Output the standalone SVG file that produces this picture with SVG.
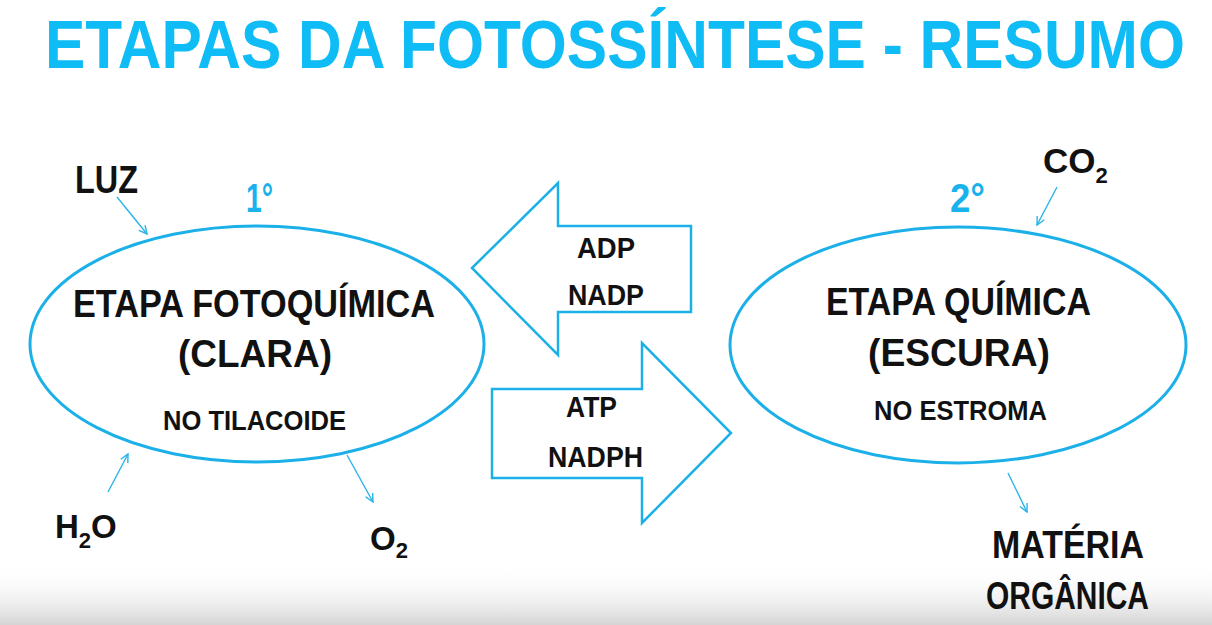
<svg xmlns="http://www.w3.org/2000/svg" width="1212" height="625" viewBox="0 0 1212 625">
  <defs>
    <linearGradient id="fade" x1="0" y1="0" x2="0" y2="1">
      <stop offset="0" stop-color="#ffffff" stop-opacity="0"/>
      <stop offset="1" stop-color="#d4d4d4" stop-opacity="1"/>
    </linearGradient>
    <marker id="vhead" viewBox="0 0 10 10" refX="9" refY="5" markerWidth="10" markerHeight="10" markerUnits="userSpaceOnUse" orient="auto">
      <path d="M1,1 L9,5 L1,9" fill="none" stroke="#2ab4e8" stroke-width="1.4"/>
    </marker>
  </defs>
  <style>
    text { font-family: "Liberation Sans", Arial, sans-serif; font-weight: bold; fill: #111; }
    .title { fill: #0fbcf5; font-size: 59px; }
    .big { font-size: 38px; }
    .small { font-size: 28px; }
    .lbl { font-size: 29px; }
    .num { fill: #1ab2ec; font-size: 40px; }
    .shape { fill: none; stroke: #1cb0e8; stroke-width: 3; }
    .block { fill: #ffffff; stroke: #1cb0e8; stroke-width: 2.5; stroke-linejoin: miter; }
    .conn { fill: none; stroke: #2ab4e8; stroke-width: 1.4; marker-end: url(#vhead); }
  </style>
  <rect x="0" y="0" width="1212" height="625" fill="#ffffff"/>
  <rect x="0" y="565" width="1212" height="60" fill="url(#fade)"/>

  <g id="title">
    <text class="title" transform="translate(45,68) scale(1,1.16)" x="0" y="0" textLength="1140" lengthAdjust="spacingAndGlyphs">ETAPAS DA FOTOSSÍNTESE - RESUMO</text>
  </g>

  <g id="etapa-fotoquimica">
    <ellipse class="shape" cx="257" cy="344" rx="227" ry="118"/>
    <text class="big" x="73" y="317" textLength="362" lengthAdjust="spacingAndGlyphs">ETAPA FOTOQUÍMICA</text>
    <text class="big" x="178" y="367" textLength="154" lengthAdjust="spacingAndGlyphs">(CLARA)</text>
    <text class="small" x="163" y="430" textLength="183" lengthAdjust="spacingAndGlyphs">NO TILACOIDE</text>
  </g>

  <g id="num-1">
    <text class="num" x="246" y="212" textLength="27" lengthAdjust="spacingAndGlyphs">1°</text>
  </g>

  <g id="etapa-quimica">
    <ellipse class="shape" cx="958" cy="345" rx="228" ry="118"/>
    <text class="big" x="826" y="315" textLength="265" lengthAdjust="spacingAndGlyphs">ETAPA QUÍMICA</text>
    <text class="big" x="868" y="366" textLength="182" lengthAdjust="spacingAndGlyphs">(ESCURA)</text>
    <text class="small" x="874" y="420" textLength="173" lengthAdjust="spacingAndGlyphs">NO ESTROMA</text>
  </g>

  <g id="num-2">
    <text class="num" x="950" y="212" textLength="35" lengthAdjust="spacingAndGlyphs">2°</text>
  </g>

  <g id="arrow-adp-nadp">
    <polygon class="block" points="472,268 558,183 558,226 691,226 691,312 558,312 558,355"/>
    <text class="lbl" x="577" y="258" textLength="58" lengthAdjust="spacingAndGlyphs">ADP</text>
    <text class="lbl" x="568" y="305" textLength="76" lengthAdjust="spacingAndGlyphs">NADP</text>
  </g>

  <g id="arrow-atp-nadph">
    <polygon class="block" points="492,389 642,389 642,343 731,433 642,523 642,478 492,478"/>
    <text class="lbl" x="566" y="417" textLength="51" lengthAdjust="spacingAndGlyphs">ATP</text>
    <text class="lbl" x="548" y="467" textLength="95" lengthAdjust="spacingAndGlyphs">NADPH</text>
  </g>

  <g id="luz">
    <text class="big" x="75" y="193" textLength="63" lengthAdjust="spacingAndGlyphs">LUZ</text>
  </g>

  <g id="h2o">
    <text x="55" y="538" font-size="33">H<tspan font-size="22" dy="10">2</tspan><tspan dy="-10">O</tspan></text>
  </g>

  <g id="o2">
    <text x="370" y="550" font-size="33">O<tspan font-size="22" dy="8">2</tspan></text>
  </g>

  <g id="co2">
    <text x="1043" y="173" font-size="35">CO<tspan font-size="22" dy="10">2</tspan></text>
  </g>

  <g id="materia-organica">
    <text class="big" x="992" y="558" textLength="152" lengthAdjust="spacingAndGlyphs">MATÉRIA</text>
    <text class="big" x="986" y="609" textLength="163" lengthAdjust="spacingAndGlyphs">ORGÂNICA</text>
  </g>

  <g id="connectors">
    <line class="conn" x1="117" y1="197" x2="147" y2="234"/>
    <line class="conn" x1="108" y1="492" x2="128" y2="454"/>
    <line class="conn" x1="347" y1="455" x2="373" y2="502"/>
    <line class="conn" x1="1057" y1="187" x2="1037" y2="225"/>
    <line class="conn" x1="1008" y1="473" x2="1027" y2="512"/>
  </g>
</svg>
